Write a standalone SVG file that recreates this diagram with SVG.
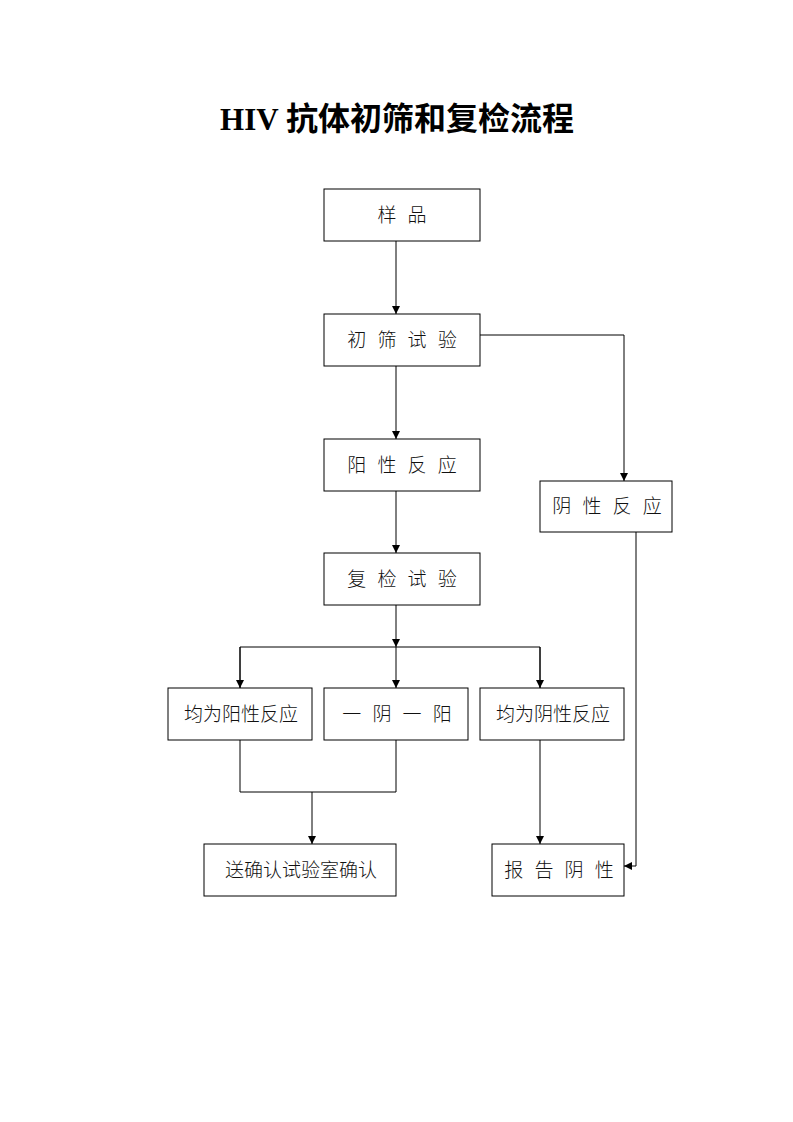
<svg xmlns="http://www.w3.org/2000/svg" width="793" height="1122" viewBox="0 0 793 1122">
<style>
.box{fill:#fff;stroke:#000;stroke-width:1}
.t{font-family:"Noto Sans CJK SC","Noto Sans CJK JP",sans-serif;font-size:19px;font-weight:300;fill:#111;text-anchor:middle}
.sp{word-spacing:7px}
.ln{fill:none;stroke:#000;stroke-width:1}
</style>
<defs>
<marker id="ah" markerWidth="8" markerHeight="10" refX="8" refY="4" orient="auto" markerUnits="userSpaceOnUse" viewBox="0 0 8 8">
<path d="M0,0 L8,4 L0,8 Z" fill="#000"/>
</marker>
</defs>
<rect width="793" height="1122" fill="#fff"/>
<text x="397" y="130" text-anchor="middle" font-weight="bold" font-size="31"><tspan font-family="Liberation Serif,serif">HIV </tspan><tspan font-family="Noto Sans CJK SC,sans-serif" font-size="32">抗体初筛和复检流程</tspan></text>
<g id="connectors">
<path class="ln" d="M396,241 V314" marker-end="url(#ah)"/>
<path class="ln" d="M396,366 V439" marker-end="url(#ah)"/>
<path class="ln" d="M480,335 H624 V481" marker-end="url(#ah)"/>
<path class="ln" d="M396,491 V553" marker-end="url(#ah)"/>
<path class="ln" d="M396,605 V647" marker-end="url(#ah)"/>
<path class="ln" d="M240,688 V647 H540 V688" />
<path class="ln" d="M240,647 V688" marker-end="url(#ah)"/>
<path class="ln" d="M396,647 V688" marker-end="url(#ah)"/>
<path class="ln" d="M540,647 V688" marker-end="url(#ah)"/>
<path class="ln" d="M240,740 V792 H396 V740"/>
<path class="ln" d="M312,792 V844" marker-end="url(#ah)"/>
<path class="ln" d="M540,740 V844" marker-end="url(#ah)"/>
<path class="ln" d="M636,532 V866 H624" marker-end="url(#ah)"/>
</g>
<g id="n1"><rect class="box" x="324" y="189" width="156" height="52"/><text class="t sp" x="402" y="222">样 品</text></g>
<g id="n2"><rect class="box" x="324" y="314" width="156" height="52"/><text class="t sp" x="402" y="347">初 筛 试 验</text></g>
<g id="n3"><rect class="box" x="324" y="439" width="156" height="52"/><text class="t sp" x="402" y="472">阳 性 反 应</text></g>
<g id="n4"><rect class="box" x="540" y="481" width="132" height="51"/><text class="t sp" x="607" y="513">阴 性 反 应</text></g>
<g id="n5"><rect class="box" x="324" y="553" width="156" height="52"/><text class="t sp" x="402" y="586">复 检 试 验</text></g>
<g id="n6"><rect class="box" x="168" y="688" width="144" height="52"/><text class="t" x="241" y="721">均为阳性反应</text></g>
<g id="n7"><rect class="box" x="324" y="688" width="144" height="52"/><text class="t sp" x="397" y="721">一 阴 一 阳</text></g>
<g id="n8"><rect class="box" x="480" y="688" width="144" height="52"/><text class="t" x="553" y="721">均为阴性反应</text></g>
<g id="n9"><rect class="box" x="204" y="844" width="192" height="52"/><text class="t" x="301" y="877">送确认试验室确认</text></g>
<g id="n10"><rect class="box" x="492" y="844" width="132" height="52"/><text class="t sp" x="559" y="877">报 告 阴 性</text></g>
</svg>
